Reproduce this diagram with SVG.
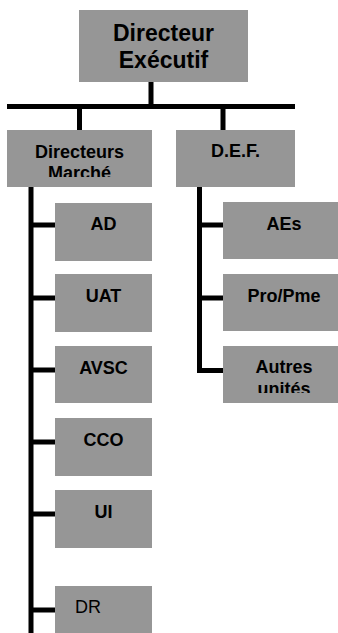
<svg xmlns="http://www.w3.org/2000/svg" width="338" height="633" viewBox="0 0 338 633">
<style>
.box{fill:#969696;stroke:none}
.t{font-family:"Liberation Sans",Arial,sans-serif;font-weight:bold;font-size:18px;fill:#000;text-anchor:middle}
.big{font-size:23px}
.reg{font-weight:normal;text-anchor:start}
.c{stroke:#000;stroke-width:5;fill:none}
</style>
<defs>
<clipPath id="clipDM"><rect x="7" y="130" width="145" height="47"/></clipPath>
<clipPath id="clipAU"><rect x="223" y="346" width="115" height="47"/></clipPath>
</defs>
<g id="connectors">
<path class="c" d="M151,82 V106.5 M7,106.5 H295 M79.5,106.5 V130 M223,106.5 V130"/>
<path class="c" d="M31,187 V633 M31,225 H55 M31,298 H55 M31,370 H55 M31,442 H55 M31,514 H55 M31,610 H55"/>
<path class="c" d="M199.5,187 V370.5 H223 M199.5,225 H223 M199.5,298 H223"/>
</g>
<g id="n-de"><rect class="box" x="79" y="10" width="169" height="72"/><text class="t big" x="163.5" y="41">Directeur</text><text class="t big" x="163.5" y="68">Exécutif</text></g>
<g id="n-dm"><rect class="box" x="7" y="130" width="145" height="57"/><g clip-path="url(#clipDM)"><text class="t" x="79.5" y="158">Directeurs</text><text class="t" x="79.5" y="179">Marché</text></g></g>
<g id="n-def"><rect class="box" x="176" y="130" width="119" height="57"/><text class="t" x="235.5" y="157">D.E.F.</text></g>
<g id="n-ad"><rect class="box" x="55" y="203" width="97" height="58"/><text class="t" x="103.5" y="230">AD</text></g>
<g id="n-uat"><rect class="box" x="55" y="274" width="97" height="58"/><text class="t" x="103.5" y="302">UAT</text></g>
<g id="n-avsc"><rect class="box" x="55" y="346" width="97" height="57"/><text class="t" x="103.5" y="374">AVSC</text></g>
<g id="n-cco"><rect class="box" x="55" y="418" width="97" height="58"/><text class="t" x="103.5" y="446">CCO</text></g>
<g id="n-ui"><rect class="box" x="55" y="490" width="97" height="58"/><text class="t" x="103.5" y="518">UI</text></g>
<g id="n-dr"><rect class="box" x="55" y="586" width="97" height="47"/><text class="t reg" x="75" y="613">DR</text></g>
<g id="n-aes"><rect class="box" x="223" y="202" width="115" height="57"/><text class="t" x="284" y="230">AEs</text></g>
<g id="n-pro"><rect class="box" x="223" y="274" width="115" height="57"/><text class="t" x="284" y="302">Pro/Pme</text></g>
<g id="n-au"><rect class="box" x="223" y="346" width="115" height="57"/><g clip-path="url(#clipAU)"><text class="t" x="284" y="373">Autres</text><text class="t" x="284" y="395">unités</text></g></g>
</svg>
